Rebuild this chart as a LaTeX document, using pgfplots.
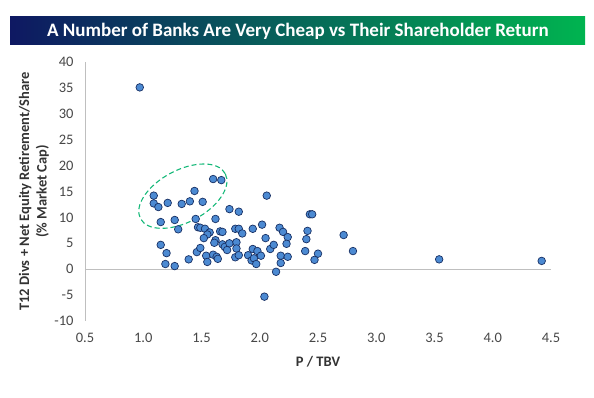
\documentclass[border=0pt]{standalone}
\usepackage{pgfplots}
\pgfplotsset{compat=1.18}
\usepackage{fontspec}
\setmainfont{Carlito}
\definecolor{navy}{RGB}{14,24,98}
\definecolor{titlegreen}{RGB}{0,180,80}
\definecolor{ptfill}{RGB}{76,138,210}
\definecolor{ptedge}{RGB}{24,48,100}
\definecolor{axgray}{RGB}{191,191,191}
\definecolor{ellgreen}{RGB}{20,184,120}
\begin{document}
\begin{tikzpicture}
\useasboundingbox (0pt,0pt) rectangle (594pt,398pt);
\shade[left color=navy, right color=titlegreen] (10pt,353pt) rectangle (585pt,381pt);
\node[text=white, font=\fontsize{19}{22}\selectfont\bfseries] at (298pt,367pt) {A Number of Banks Are Very Cheap vs Their Shareholder Return};
\begin{axis}[
  at={(85pt,77pt)}, anchor=south west,
  scale only axis, width=466pt, height=259pt,
  xmin=0.5, xmax=4.5, ymin=-10, ymax=40,
  xtick={0.5,1,...,4.5}, ytick={-10,-5,...,40},
  axis lines*=left,
  x axis line style={draw=none},
  y axis line style={draw=axgray, line width=0.8pt},
  major tick length=0pt,
  clip=false,
  /pgf/number format/assume math mode=true,
  xticklabel style={/pgf/number format/fixed, /pgf/number format/fixed zerofill, /pgf/number format/precision=1, yshift=-9pt},
  ticklabel style={font=\fontsize{14.5}{16}\selectfont, text=black!72},
  yticklabel style={xshift=-8pt},
  every axis x label/.style={at={(axis description cs:0.5,-0.158)}, anchor=center},
  every axis y label/.style={at={(axis description cs:-0.1094,0.5)}, anchor=center, rotate=90},
  xlabel={P / TBV},
  ylabel={T12 Divs + Net Equity Retirement/Share\\(\% Market Cap)},
  label style={font=\fontsize{14.5}{17.5}\selectfont\bfseries, align=center, text=black!80},
]
\addplot[draw=axgray, line width=0.8pt, forget plot] coordinates {(0.5,0) (4.5,0)};
\addplot[only marks, mark=*, mark size=3.8pt, mark options={fill=ptfill, draw=ptedge, line width=0.7pt}] table {
x y
0.97 35.1
1.60 17.4
1.67 17.2
1.44 15.1
1.09 14.2
2.06 14.2
1.09 12.7
1.13 12.0
1.21 12.8
1.33 12.6
1.40 13.1
1.51 13.0
1.74 11.6
1.82 11.1
1.15 9.1
1.27 9.5
1.45 9.7
1.62 9.7
1.30 7.7
1.47 8.1
1.49 8.0
1.53 7.8
1.57 7.1
1.55 6.7
1.52 6.0
1.66 7.3
1.68 7.2
1.62 5.6
1.61 5.1
1.79 7.8
1.82 7.8
1.85 6.9
1.94 7.8
2.02 8.6
2.05 6.0
2.17 8.0
2.20 7.2
2.24 6.2
1.15 4.7
1.20 3.1
1.19 1.0
1.27 0.6
1.39 1.9
1.46 3.3
1.49 4.1
1.54 2.6
1.55 1.4
1.60 2.8
1.63 2.4
1.64 2.0
1.68 4.8
1.70 4.3
1.72 3.7
1.74 5.0
1.80 5.2
1.80 4.0
1.79 2.3
1.82 2.7
1.90 2.7
1.94 3.9
1.93 1.7
1.95 2.1
1.97 1.0
1.98 3.5
2.01 2.6
2.09 3.9
2.12 4.7
2.23 4.9
2.18 2.6
2.18 1.2
2.24 2.4
2.14 -0.5
2.04 -5.3
2.43 10.6
2.45 10.6
2.41 7.4
2.40 5.8
2.39 3.5
2.50 3.0
2.47 1.8
2.72 6.6
2.80 3.5
3.54 1.9
4.42 1.6
};
\draw[ellgreen, line width=1.1pt, dash pattern=on 5pt off 3pt, rotate around={28:(axis cs:1.34,14.1)}] (axis cs:1.34,14.1) ellipse [x radius=48pt, y radius=26pt];
\end{axis}
\end{tikzpicture}
\end{document}
